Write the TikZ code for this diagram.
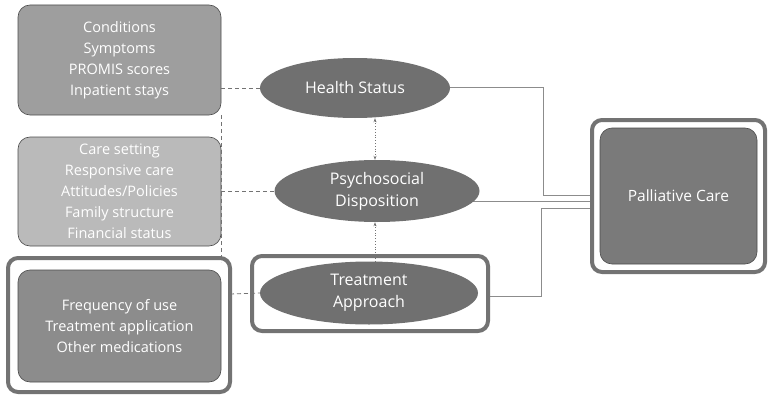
\documentclass[tikz,border=0pt]{standalone}
\usepackage{fontspec}
\setmainfont{Open Sans}
\usetikzlibrary{arrows.meta,shapes.geometric,backgrounds}
\begin{document}
\begin{tikzpicture}[x=1pt,y=-1pt,
  txt/.style={text=white,font=\fontsize{14.5}{21}\selectfont,align=center},
  box/.style={draw=gray!60!black,line width=0.6pt,rounded corners=12pt,txt},
  frame/.style={draw=black!55,line width=4pt,rounded corners=10pt,fill=white},
  conn/.style={draw=black!45,line width=1pt},
  dsh/.style={draw=black!55,line width=0.8pt,dash pattern=on 4pt off 3pt},
  dot/.style={draw=black!55,line width=0.8pt,dotted,-{Stealth[length=4pt]}}]
\useasboundingbox (0,0) rectangle (775,401);
% frames
\draw[frame] (8,258) rectangle (230,392);
\draw[frame] (252,256) rectangle (488,331);
\draw[frame] (592,120) rectangle (765,272);
% boxes
\node[box,fill=black!38,minimum width=203pt,minimum height=110pt] (b1) at (119.5,60) {Conditions\\Symptoms\\PROMIS scores\\Inpatient stays};
\node[box,fill=black!27,minimum width=203pt,minimum height=109pt] (b2) at (119.5,191.5) {Care setting\\Responsive care\\Attitudes/Policies\\Family structure\\Financial status};
\node[box,fill=black!45,minimum width=203pt,minimum height=112pt] (b3) at (119.5,326) {Frequency of use\\Treatment application\\Other medications};
\node[box,fill=black!52,minimum width=157pt,minimum height=136pt,font=\fontsize{15.5}{21}\selectfont] (pc) at (678.5,196) {Palliative Care};
% ellipses
\node[ellipse,fill=black!56,txt,font=\fontsize{16}{22}\selectfont,minimum width=190pt,minimum height=60pt,inner sep=0pt] (hs) at (355,88) {Health Status};
\node[ellipse,fill=black!56,txt,font=\fontsize{16}{22}\selectfont,minimum width=205pt,minimum height=62pt,inner sep=0pt] (ps) at (377,191) {Psychosocial\\Disposition};
\node[ellipse,fill=black!56,txt,font=\fontsize{16}{22}\selectfont,minimum width=218pt,minimum height=63pt,inner sep=0pt] (ta) at (369,293) {Treatment\\Approach};
% connectors
\coordinate (p1) at (pc.west |- 0,195);
\coordinate (p2) at (pc.west |- 0,201);
\coordinate (p3) at (pc.west |- 0,208);
\begin{pgfonlayer}{background}
\draw[conn] (hs.center) -- (543,88) -- (543,195) -- (p1);
\draw[conn] (ps.center |- p2) -- (p2);
\draw[conn] (ta.center |- 0,296) -- (541,296) -- (541,208) -- (p3);
\end{pgfonlayer}
\draw[dsh] (b1.east |- hs) -- (hs.west);
\draw[dsh] (b2.east |- ps) -- (ps.west);
\draw[dsh] (230,294) -- (ta.west);
\coordinate (v1) at (221,115);
\coordinate (v2) at (221,262);
\draw[dsh] (v1) -- (v2);
\draw[dot,{Stealth[length=4pt]}-{Stealth[length=4pt]}] (hs.south -| 375,0) -- (ps.north -| 375,0);
\draw[dot] (ta.north -| 375,0) -- (ps.south -| 375,0);
\end{tikzpicture}
\end{document}
